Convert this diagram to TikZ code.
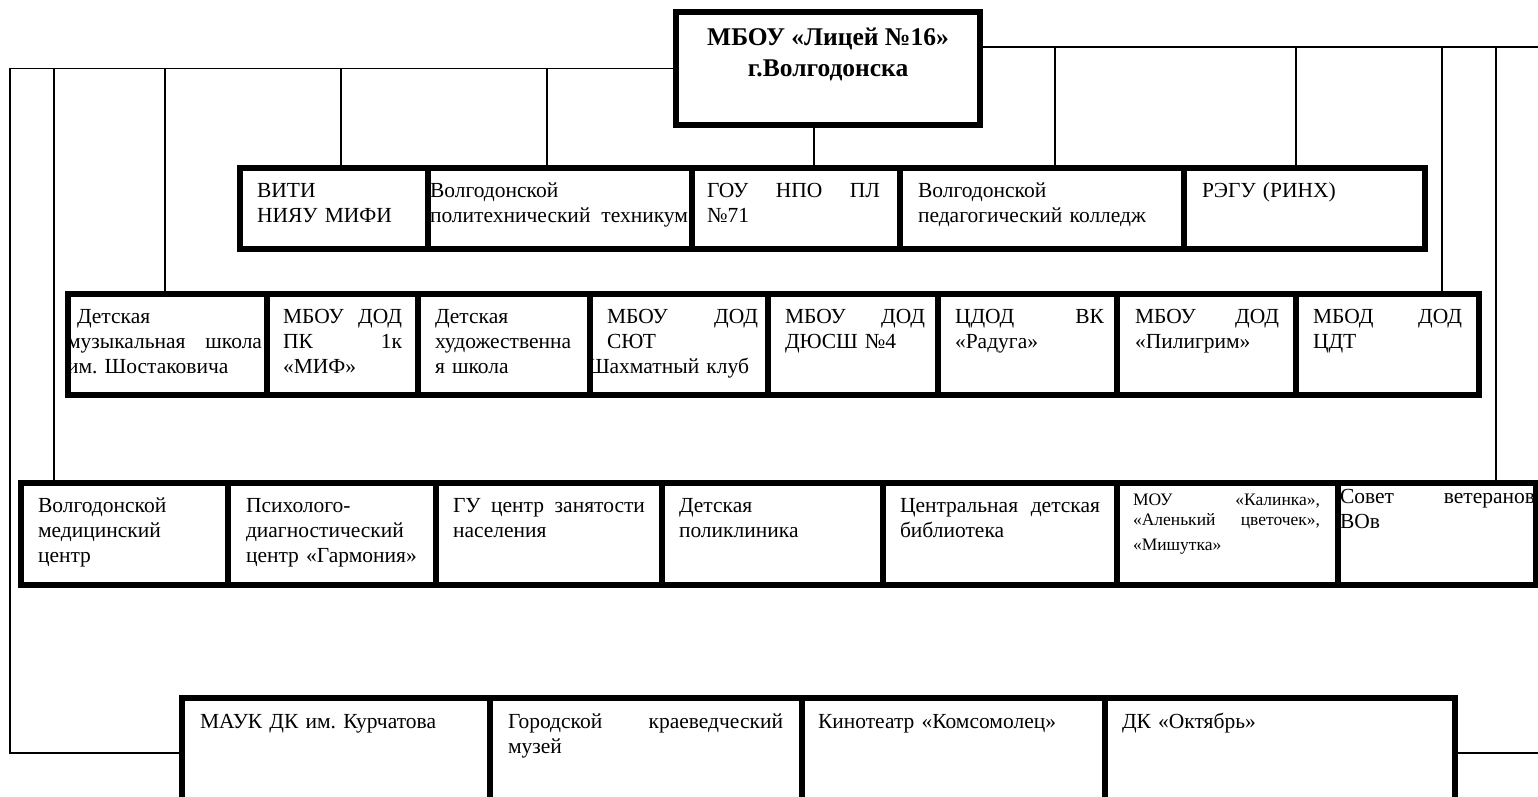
\documentclass[tikz,border=0pt]{standalone}
\usepackage{fontspec}
\setmainfont{Liberation Serif}
\newcommand\jf{\hspace{0pt plus 1filll}}
\tikzset{
  boxst/.style={draw, line width=5.5pt, inner sep=0pt, outer sep=0pt},
  txt/.style={inner sep=0pt, outer sep=0pt, align=left, font=\fontsize{21.5}{25}\selectfont\frenchspacing},
  conn/.style={line width=1.5pt},
}
% name, x1, y1, x2, y2, text-left, text-right, text, first-baseline offset
\newcommand\bx[9]{%
  \pgfmathsetmacro\bxw{#4-#2}\pgfmathsetmacro\bxh{#5-#3}%
  \pgfmathsetmacro\bxtw{#7-#6}\pgfmathsetmacro\bxtl{#6-#2}\pgfmathsetmacro\bxtt{#9-17.5}%
  \node[boxst, minimum width=\bxw pt, minimum height=\bxh pt, anchor=north west] (#1) at (#2,#3) {};
  \node[txt, text width=\bxtw pt, anchor=north west] at ([shift={(\bxtl,\bxtt)}]#1.north west) {\strut #8};
}
\begin{document}
\begin{tikzpicture}[x=1pt,y=-1pt]
\useasboundingbox (0,0) rectangle (1538,796);
\clip (0,0) rectangle (1538,796);

% top box
\node[boxst, minimum width=304pt, minimum height=113pt, anchor=north west] (top) at (676,12) {};
\node[inner sep=0pt, align=center, anchor=north, font=\bfseries\fontsize{25.5}{31}\selectfont]
  at ([yshift=-11.3pt]top.north) {\strut МБОУ «Лицей №16»\\г.Волгодонска};

% row 1
\bx{r1a}{240}{168}{428}{249}{257}{411}{ВИТИ\\НИЯУ МИФИ}{29}
\bx{r1b}{428}{168}{692}{249}{430}{688}{Волгодонской\\политехнический\jf техникум}{29}
\bx{r1c}{692}{168}{900}{249}{707}{880}{ГОУ\jf НПО\jf ПЛ\\№71}{29}
\bx{r1d}{900}{168}{1184}{249}{918}{1167}{Волгодонской\\педагогический колледж}{29}
\bx{r1e}{1184}{168}{1425}{249}{1202}{1408}{РЭГУ (РИНХ)}{29}

% row 2
\bx{r2a}{68}{294}{267}{395}{67}{262}{\hspace*{10pt}Детская\\музыкальная\jf школа\\им. Шостаковича}{29}
\bx{r2b}{267}{294}{418}{395}{283}{402}{МБОУ\jf ДОД\\ПК\jf 1к\\«МИФ»}{29}
\bx{r2c}{418}{294}{590}{395}{435}{575}{Детская\\художественна\\я школа}{29}
\bx{r2d}{590}{294}{768}{395}{607}{758}{МБОУ\jf ДОД\\СЮТ\\\hspace*{-19pt}Шахматный клуб}{29}
\bx{r2e}{768}{294}{938}{395}{785}{925}{МБОУ\jf ДОД\\ДЮСШ №4}{29}
\bx{r2f}{938}{294}{1117}{395}{955}{1104}{ЦДОД\jf ВК\\«Радуга»}{29}
\bx{r2g}{1117}{294}{1296}{395}{1135}{1279}{МБОУ\jf ДОД\\«Пилигрим»}{29}
\bx{r2h}{1296}{294}{1479}{395}{1313}{1462}{МБОД\jf ДОД\\ЦДТ}{29}

% row 3
\bx{r3a}{21}{483}{228}{585}{38}{212}{Волгодонской\\медицинский\\центр}{29}
\bx{r3b}{228}{483}{436}{585}{246}{420}{Психолого-\\диагностический\\центр «Гармония»}{29}
\bx{r3c}{436}{483}{662}{585}{453}{645}{ГУ\jf центр\jf занятости\\населения}{29}
\bx{r3d}{662}{483}{883}{585}{679}{866}{Детская\\поликлиника}{29}
\bx{r3e}{883}{483}{1117}{585}{900}{1100}{Центральная\jf детская\\библиотека}{29}
\bx{r3f}{1117}{483}{1338}{585}{1133}{1320}{\fontsize{17.5}{20}\selectfont МОУ\jf «Калинка»,\\«Аленький\jf цветочек»,\\«Мишутка»}{22}
\bx{r3g}{1338}{483}{1536}{585}{1340}{1535}{Совет\jf ветеранов\\ВОв}{20}

% row 4
\bx{r4a}{182}{698}{490}{808}{200}{480}{МАУК ДК им. Курчатова}{30}
\bx{r4b}{490}{698}{802}{808}{508}{783}{Городской\jf краеведческий\\музей}{30}
\bx{r4c}{802}{698}{1105}{808}{818}{1090}{Кинотеатр «Комсомолец»}{30}
\bx{r4d}{1105}{698}{1455}{808}{1122}{1440}{ДК «Октябрь»}{30}

% buses
\coordinate (LB) at (10,68.5);
\coordinate (RB) at (1538,47);
\draw[conn] (top.west) -- (LB) |- (r4a.west);
\draw[conn] ([yshift=-35pt]top.north east) -- (RB);
\draw[conn] (r4d.east) -- (r4d.east -| RB);

% drops from the left bus
\draw[conn] ([xshift=-70.5pt]r3a.north) -- ([xshift=-70.5pt]r3a.north |- LB);
\draw[conn] ([xshift=-2.5pt]r2a.north) -- ([xshift=-2.5pt]r2a.north |- LB);
\draw[conn] ([xshift=7pt]r1a.north) -- ([xshift=7pt]r1a.north |- LB);
\draw[conn] ([xshift=-13pt]r1b.north) -- ([xshift=-13pt]r1b.north |- LB);
% drop from the top box
\draw[conn] ([xshift=-14pt]top.south) -- ([xshift=-14pt]top.south |- r1c.north);
% drops from the right bus
\draw[conn] ([xshift=13pt]r1d.north) -- ([xshift=13pt]r1d.north |- RB);
\draw[conn] ([xshift=-8.5pt]r1e.north) -- ([xshift=-8.5pt]r1e.north |- RB);
\draw[conn] ([xshift=54.5pt]r2h.north) -- ([xshift=54.5pt]r2h.north |- RB);
\draw[conn] ([xshift=59pt]r3g.north) -- ([xshift=59pt]r3g.north |- RB);
\end{tikzpicture}
\end{document}
